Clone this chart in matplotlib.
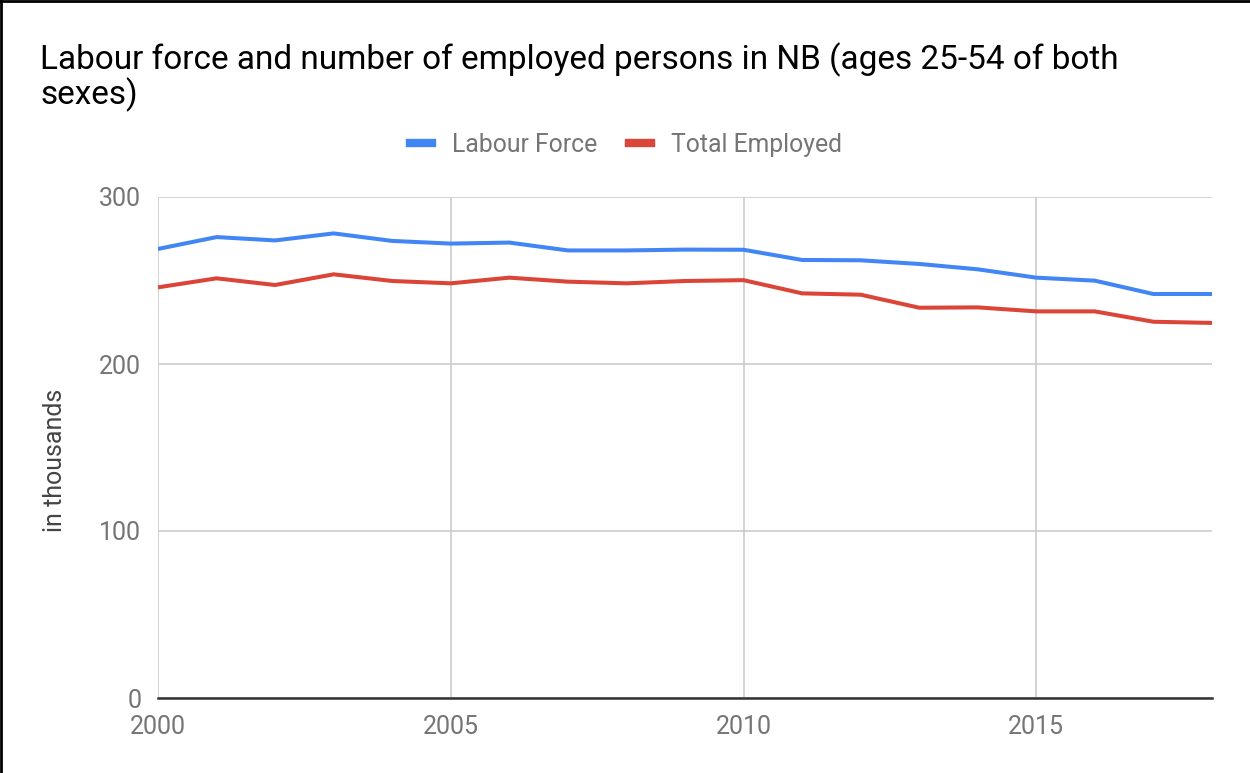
import matplotlib
matplotlib.use("Agg")
import matplotlib.pyplot as plt
from matplotlib.lines import Line2D

plt.rcParams['font.family'] = ['Roboto', 'DejaVu Sans']

years = list(range(2000, 2019))
labour_force = [268.9, 276.0, 274.0, 278.2, 273.7, 272.1, 272.7, 268.0, 268.0, 268.5,
                268.4, 262.3, 262.1, 259.9, 256.7, 251.7, 249.9, 241.9, 241.9]
total_employed = [245.9, 251.3, 247.3, 253.7, 249.7, 248.3, 251.7, 249.3, 248.3, 249.7,
                  250.2, 242.3, 241.5, 233.7, 233.9, 231.5, 231.5, 225.3, 224.6]
series_names = ["Labour Force", "Total Employed"]
y_ticks = [0, 100, 200, 300]
x_ticks = [2000, 2005, 2010, 2015]
title_lines = ["Labour force and number of employed persons in NB (ages 25-54 of both", "sexes)"]
y_label = "in thousands"

W, H = 1250, 773
fig = plt.figure(figsize=(W / 100, H / 100), dpi=100)
fig.patch.set_facecolor("white")

ax = fig.add_axes([158 / W, 1 - 698 / H, (1212 - 158) / W, (698 - 197) / H])
blue = "#4285F4"
red = "#DB4437"
ax.plot(years, labour_force, color=blue, lw=2.9, solid_joinstyle="round", zorder=3)
ax.plot(years, total_employed, color=red, lw=2.9, solid_joinstyle="round", zorder=3)

ax.set_xlim(2000, 2018)
ax.set_ylim(0, 300)
ax.set_xticks(x_ticks)
ax.set_yticks(y_ticks)
ax.grid(True, color="#cccccc", lw=1.2, zorder=0)
for s in ["top", "right", "left"]:
    ax.spines[s].set_visible(False)
ax.spines["bottom"].set_color("#333333")
ax.spines["bottom"].set_linewidth(1.8)
ax.spines["bottom"].set_zorder(4)
ax.tick_params(axis="both", length=0, labelsize=18, labelcolor="#757575")
ax.tick_params(axis="y", pad=12)
ax.tick_params(axis="x", pad=12)

# title
fig.text(40 / W, 1 - 69 / H, title_lines[0], fontsize=24, color="#000000", va="baseline", ha="left")
fig.text(40 / W, 1 - 104 / H, title_lines[1], fontsize=24, color="#000000", va="baseline", ha="left")

# y label
fig.text(55 / W, 1 - 460 / H, y_label, rotation=90, fontsize=18, color="#444444", va="center", ha="center")

# legend
handles = [Line2D([0], [0], color=blue, lw=6), Line2D([0], [0], color=red, lw=6)]
leg = fig.legend(handles, series_names, loc="center", bbox_to_anchor=(626 / W, 1 - 145 / H),
                 ncol=2, frameon=False, fontsize=17.8, handlelength=0.9, handletextpad=0.8,
                 columnspacing=1.3, labelcolor="#757575")

# border lines (top and left)
fig.add_artist(Line2D([0, 1], [1 - 1 / H, 1 - 1 / H], color="black", lw=2, transform=fig.transFigure))
fig.add_artist(Line2D([1 / W, 1 / W], [0, 1], color="black", lw=2, transform=fig.transFigure))

fig.savefig("out.png", dpi=100, facecolor="white")
